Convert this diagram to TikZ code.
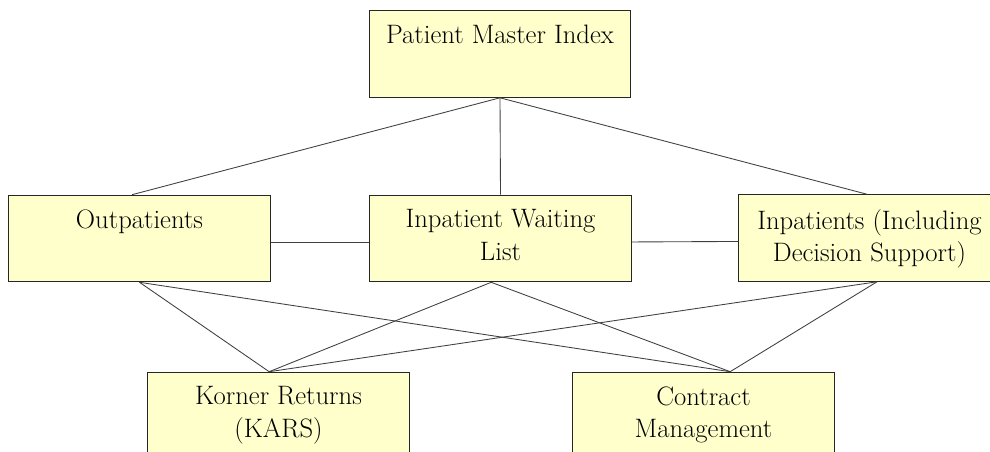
\documentclass[tikz,border=0pt]{standalone}
\usetikzlibrary{positioning}
\definecolor{boxfill}{RGB}{255,255,204}

\begin{document}
\begin{tikzpicture}[
    x=0.75pt, y=-0.75pt,
    module/.style={rectangle, draw=black!85, line width=0.7pt, fill=boxfill, minimum width=196pt, minimum height=65pt, inner sep=0pt},
    caption/.style={inner sep=0pt, align=center, font=\fontsize{20}{24.5}\selectfont},
    link/.style={draw=black!75, line width=0.65pt}
]

\clip (0,0) rectangle (990,452);

% The six modules (the last ones run off the page)
\node[module] (pmi) at (500,54) {};
\node[module] (out) at (139.5,238.5) {};
\node[module] (iwl) at (500.5,238.5) {};
\node[module] (inp) at (869.5,238) {};
\node[module] (kars) at (278.5,415.5) {};
\node[module] (cm) at (703.5,415.5) {};

% Texts hang from the top edge of each box
\node[caption, below=11pt of pmi.north] (pmi-text) {Patient Master Index};
\node[caption, below=11pt of out.north] (out-text) {Outpatients};
\node[caption, below=11pt of iwl.north] (iwl-text) {Inpatient Waiting\\List};
\node[caption, below=11pt of inp.north] (inp-text) {Inpatients (Including\\Decision Support)};
\node[caption, below=11pt of kars.north] (kars-text) {Korner Returns\\(KARS)};
\node[caption, below=11pt of cm.north] (cm-text) {Contract\\Management};

% Where the lower links meet the boxes
\coordinate (out-bot) at (out.south);
\coordinate (iwl-bot) at ([xshift=-7pt]iwl.south);
\coordinate (inp-bot) at ([xshift=5.6pt]inp.south);
\coordinate (kars-top) at ([xshift=-7pt]kars.north);
\coordinate (cm-top) at ([xshift=20pt]cm.north);

% Links from the master index
\draw[link] (pmi.south) -- ([xshift=-5.6pt]out.north);
\draw[link] (pmi.south) -- (iwl.north);
\draw[link] (pmi.south) -- ([xshift=-2pt]inp.north);

% Links along the middle row
\draw[link] ([yshift=-2.6pt]out.east) -- ([yshift=-2.6pt]iwl.west);
\draw[link] ([yshift=-2.6pt]iwl.east) -- ([yshift=-2.6pt]inp.west);

% Every middle box feeds both returns
\foreach \src in {out-bot, iwl-bot, inp-bot}
    \foreach \dst in {kars-top, cm-top}
        \draw[link] (\src) -- (\dst);

\end{tikzpicture}
\end{document}
